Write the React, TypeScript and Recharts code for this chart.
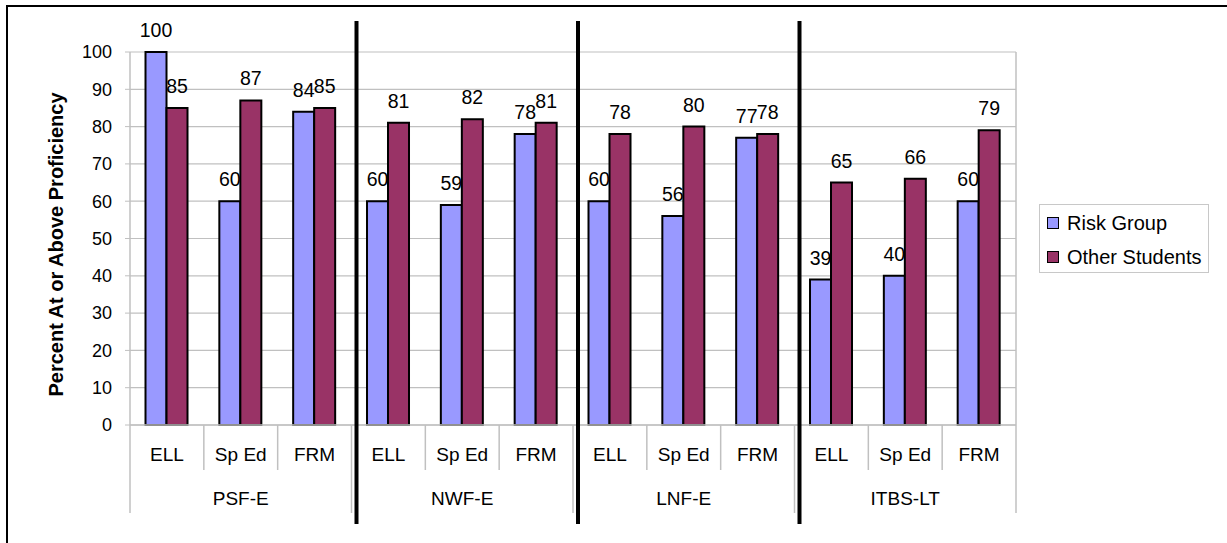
import React from 'react';
import { BarChart, Bar, XAxis, YAxis, CartesianGrid, LabelList, Label } from 'recharts';

const categories = ['ELL', 'Sp Ed', 'FRM', 'ELL', 'Sp Ed', 'FRM', 'ELL', 'Sp Ed', 'FRM', 'ELL', 'Sp Ed', 'FRM'];
const groups = ['PSF-E', 'NWF-E', 'LNF-E', 'ITBS-LT'];
const riskGroup = [100, 60, 84, 60, 59, 78, 60, 56, 77, 39, 40, 60];
const otherStudents = [85, 87, 85, 81, 82, 81, 78, 80, 78, 65, 66, 79];
const yTicks = [0, 10, 20, 30, 40, 50, 60, 70, 80, 90, 100];
const seriesNames = ['Risk Group', 'Other Students'];
const yTitle = 'Percent At or Above Proficiency';

const data = categories.map((c, i) => ({
  cat: c,
  group: groups[Math.floor(i / 3)],
  risk: riskGroup[i],
  other: otherStudents[i],
}));

const W = 1227;
const H = 543;
const M = { top: 52, right: 211, left: 5, bottom: 30 };
const YW = 125;
const AX1 = 44;
const AX2 = 44;
const plotLeft = M.left + YW;
const plotRight = W - M.right;
const plotTop = M.top;
const plotBottom = H - M.bottom - AX1 - AX2;
const band = (plotRight - plotLeft) / categories.length;
const FONT = '"Liberation Sans", Arial, sans-serif';
const GRAY = '#c0c0c0';
const RISK = '#9999FF';
const OTHER = '#993366';

const CatTick = (props: any) => {
  const { x, index } = props;
  return (
    <g>
      <text x={x} y={plotBottom + 29} textAnchor="middle" dominantBaseline="central" fontSize={19} fontFamily={FONT} fill="#000">
        {categories[index]}
      </text>
      {index % 3 !== 0 && (
        <line x1={x - band / 2} x2={x - band / 2} y1={plotBottom} y2={plotBottom + 45} stroke={GRAY} strokeWidth={1.5} />
      )}
    </g>
  );
};

const GroupTick = (props: any) => {
  const { x, index } = props;
  return (
    <g>
      {index % 3 === 1 && (
        <text x={x} y={plotBottom + 73} textAnchor="middle" dominantBaseline="central" fontSize={19} fontFamily={FONT} fill="#000">
          {groups[Math.floor(index / 3)]}
        </text>
      )}
      {index % 3 === 0 && (
        <line x1={x - band / 2} x2={x - band / 2} y1={plotBottom} y2={plotBottom + 88} stroke={GRAY} strokeWidth={1.5} />
      )}
      {index === categories.length - 1 && (
        <line x1={x + band / 2} x2={x + band / 2} y1={plotBottom} y2={plotBottom + 88} stroke={GRAY} strokeWidth={1.5} />
      )}
    </g>
  );
};

export default function App() {
  const separators = [1, 2, 3].map((k) => plotLeft + k * 3 * band + 5);
  return (
    <div style={{ position: 'absolute', left: 0, top: 0, width: W, height: H, overflow: 'hidden', background: '#fff', fontFamily: FONT }}>
      <div style={{ position: 'absolute', left: 6, top: 5, width: W + 20, height: H + 20, borderTop: '2px solid #000', borderLeft: '2px solid #000' }} />
      <div style={{ position: 'absolute', left: 0, top: 0 }}>
        <BarChart width={W} height={H} data={data} margin={M} barCategoryGap="21%" barGap={0}>
          <CartesianGrid vertical={false} stroke={GRAY} strokeWidth={1.2} />
          <XAxis
            dataKey="cat"
            xAxisId={0}
            height={AX1}
            interval={0}
            axisLine={{ stroke: GRAY, strokeWidth: 1.5 }}
            tickLine={false}
            tick={<CatTick />}
            allowDuplicatedCategory
          />
          <XAxis
            dataKey="group"
            xAxisId="grp"
            height={AX2}
            interval={0}
            axisLine={false}
            tickLine={false}
            tick={<GroupTick />}
            allowDuplicatedCategory
          />
          <YAxis
            width={YW}
            domain={[0, 100]}
            ticks={yTicks}
            interval={0}
            axisLine={{ stroke: GRAY, strokeWidth: 1.5 }}
            tickLine={{ stroke: GRAY }}
            tickSize={5}
            tickMargin={13}
            tick={{ fill: '#000', fontSize: 18, fontFamily: FONT }}
          >
            <Label
              content={(p: any) => {
                const vb = p.viewBox || {};
                const cx = 56;
                const cy = (vb.y ?? plotTop) + (vb.height ?? plotBottom - plotTop) / 2 + 6;
                return (
                  <text
                    x={cx}
                    y={cy}
                    transform={`rotate(-90 ${cx} ${cy})`}
                    textAnchor="middle"
                    dominantBaseline="central"
                    fontSize={20}
                    fontWeight="bold"
                    fontFamily={FONT}
                    fill="#000"
                  >
                    {yTitle}
                  </text>
                );
              }}
            />
          </YAxis>
          <Bar dataKey="risk" name={seriesNames[0]} fill={RISK} stroke="#000" strokeWidth={2} isAnimationActive={false}>
            <LabelList dataKey="risk" position="top" offset={15} fill="#000" fontSize={19.5} fontFamily={FONT} />
          </Bar>
          <Bar dataKey="other" name={seriesNames[1]} fill={OTHER} stroke="#000" strokeWidth={2} isAnimationActive={false}>
            <LabelList dataKey="other" position="top" offset={15} fill="#000" fontSize={19.5} fontFamily={FONT} />
          </Bar>
        </BarChart>
      </div>
      <svg width={W} height={H} style={{ position: 'absolute', left: 0, top: 0, pointerEvents: 'none' }}>
        <line x1={plotRight} x2={plotRight} y1={plotTop} y2={plotBottom} stroke={GRAY} strokeWidth={1.5} />
        {separators.map((x, i) => (
          <line key={i} x1={x} x2={x} y1={21} y2={524} stroke="#000" strokeWidth={4} />
        ))}
      </svg>
      <div
        style={{
          position: 'absolute',
          left: 1039,
          top: 204,
          width: 170,
          height: 69,
          boxSizing: 'border-box',
          border: '1px solid #c8c8c8',
          background: '#fff',
        }}
      >
        {seriesNames.map((n, i) => (
          <div key={n} style={{ position: 'absolute', left: 7, top: 7 + i * 34, height: 22, display: 'flex', alignItems: 'center' }}>
            <span style={{ display: 'inline-block', width: 10, height: 10, border: '1px solid #000', background: i === 0 ? RISK : OTHER }} />
            <span style={{ marginLeft: 8, fontSize: 20, color: '#000', whiteSpace: 'nowrap', lineHeight: '22px' }}>{n}</span>
          </div>
        ))}
      </div>
    </div>
  );
}
